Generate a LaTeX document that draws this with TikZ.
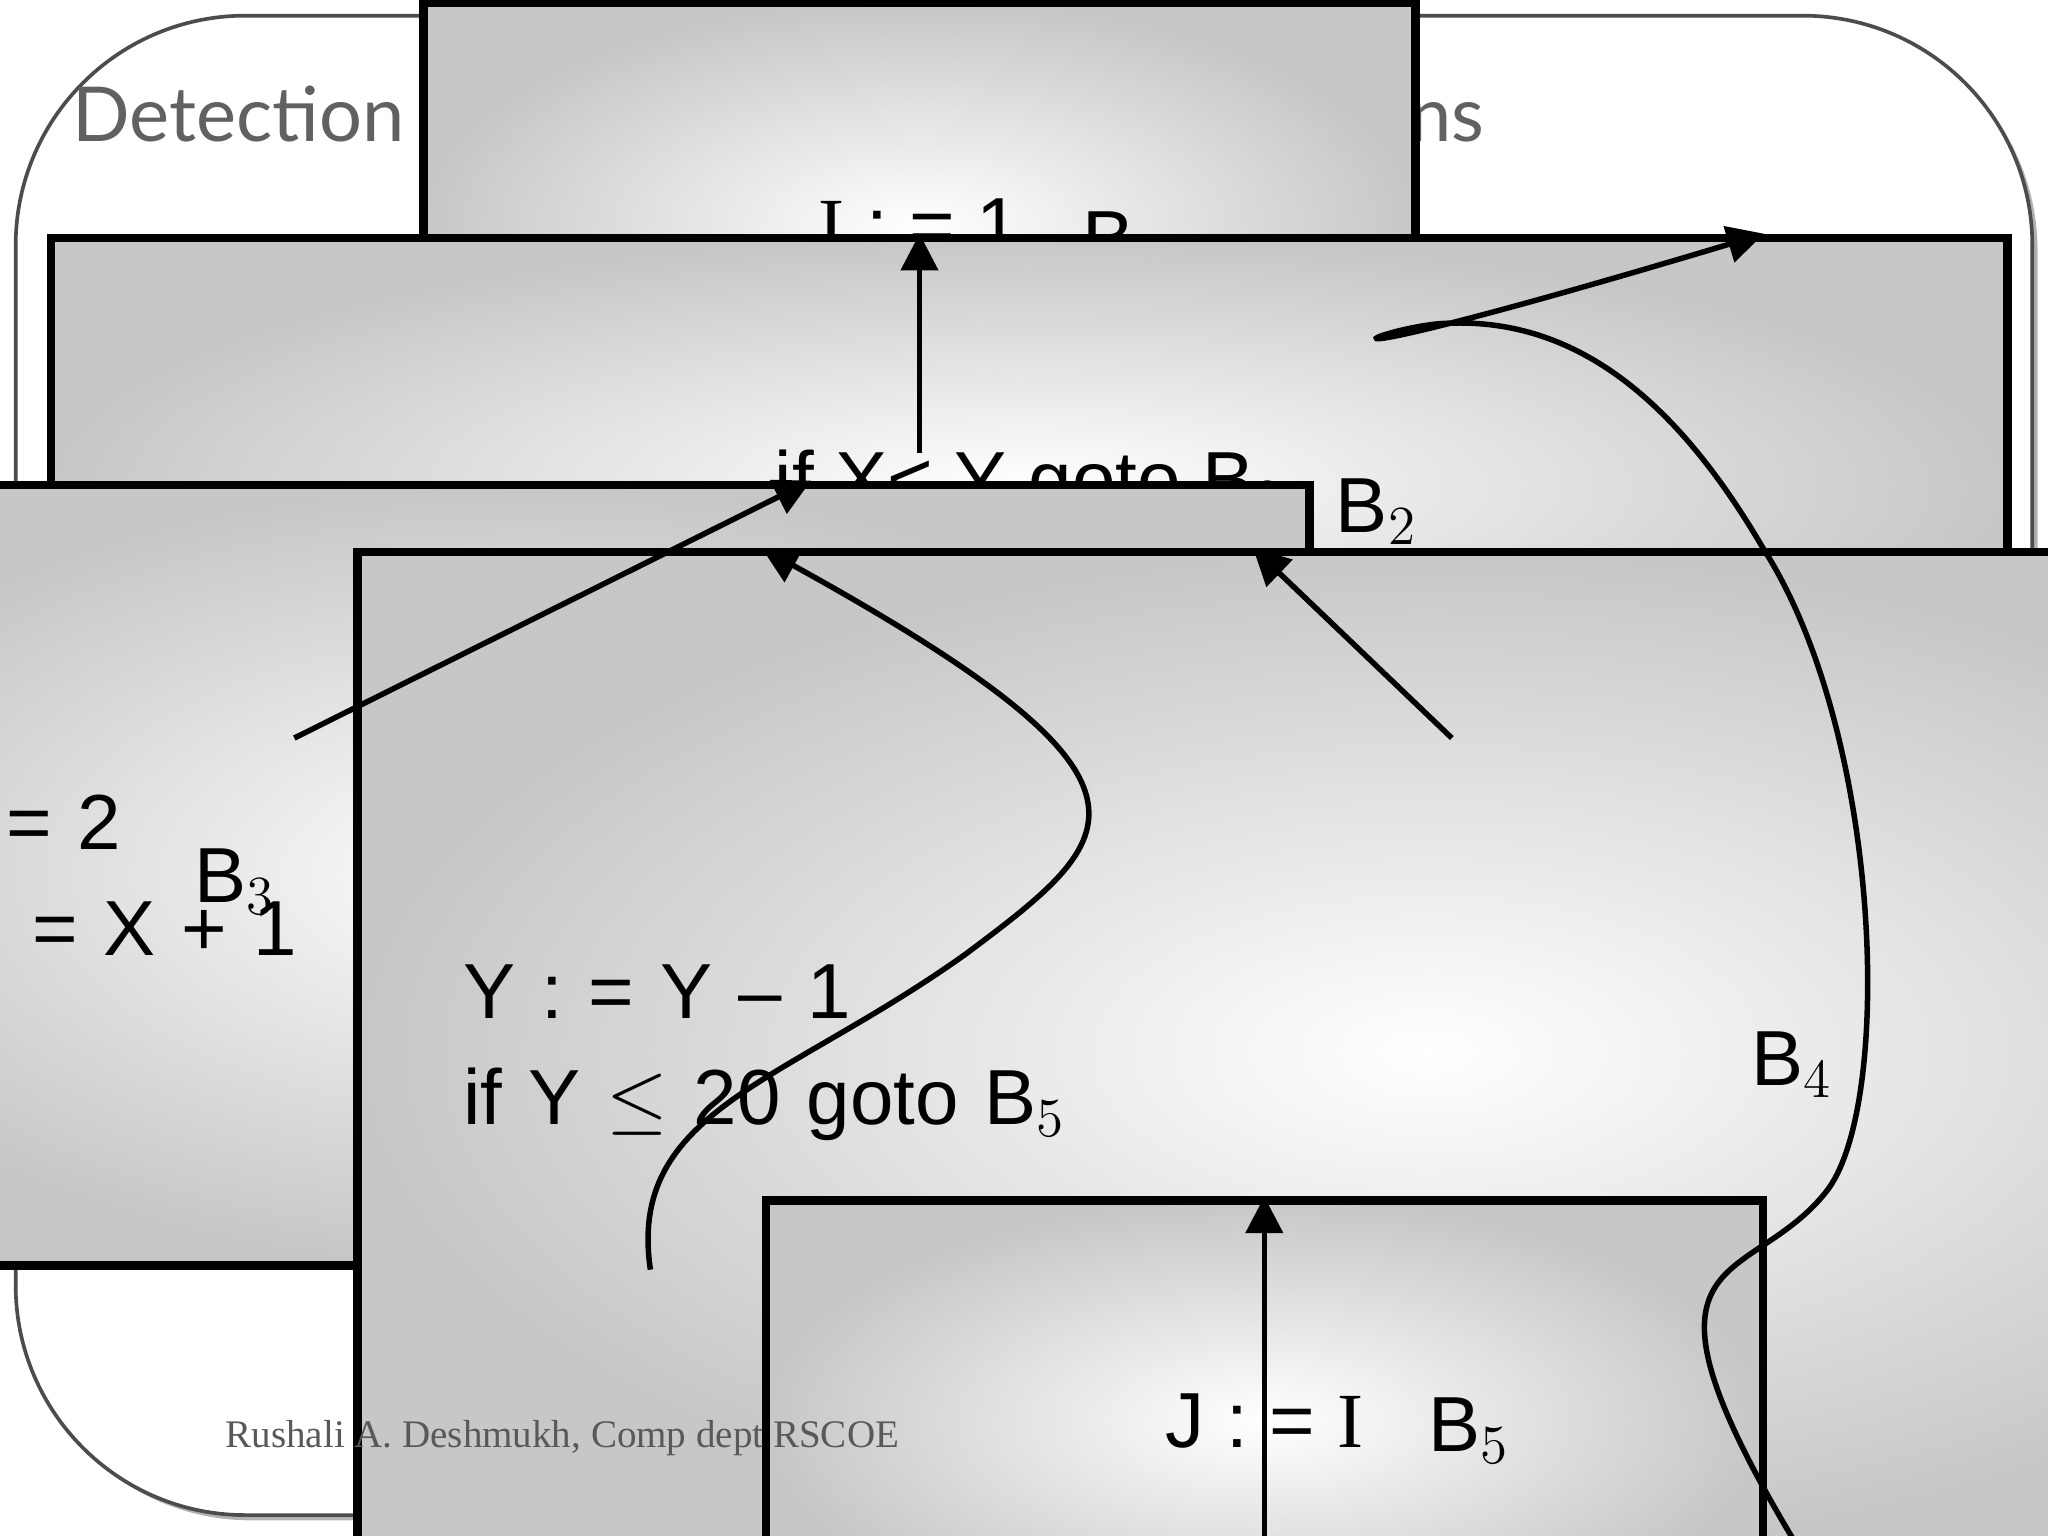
\documentclass[tikz,border=0pt]{standalone}
\usepackage{fontspec}
\setmainfont{Liberation Sans}
\newfontfamily\serifI{Liberation Serif}
\newfontfamily\titlefont{Lato}
\usetikzlibrary{arrows.meta,shadings}
\begin{document}
\begin{tikzpicture}[x=0.01cm,y=-0.01cm,
  blk/.style={draw=black,line width=1.8pt,inner color=white,outer color=black!22,font=\fontsize{17}{23}\selectfont,align=left},
  lbl/.style={font=\fontsize{17}{20}\selectfont},
  arr/.style={line width=1.2pt,-{Triangle[length=8pt,width=8pt]}}]
\useasboundingbox (0,0) rectangle (1568,1176);
\fill[black!30,rounded corners=50] (16,16) rectangle (1560,1164);
\draw[black!70,fill=white,line width=0.8pt,rounded corners=50] (12,12) rectangle (1556,1160);
\node[anchor=base west,inner sep=0,text=black!62,font=\titlefont\fontsize{16.5}{20}\selectfont] (title) at (55,108) {Detection of Loop-Invariant Computations};
\node[blk,minimum width=216,minimum height=97] (b1) at (704,173) {{\serifI I} : = 1};
\node[lbl] (l1) at (860,187) {B$_1$};
\node[blk,minimum width=426,minimum height=108] (b2) at (788,372) {if X< Y goto B$_3$};
\node[lbl] (l2) at (1054,392) {B$_2$};
\node[blk,minimum width=341,minimum height=170,text width=270] (b3) at (403,670) {{\serifI I} : = 2\\X : = X + 1};
\node[lbl] (l3) at (180,675) {B$_3$};
\node[blk,minimum width=466,minimum height=218,text width=420] (b4) at (1093,806) {Y : = Y -- 1\\if Y $\leq$ 20 goto B$_5$};
\node[lbl] (l4) at (1372,815) {B$_4$};
\node[blk,minimum width=217,minimum height=96] (b5) at (968,1088) {J : = {\serifI I}};
\node[lbl] (l5) at (1125,1095) {B$_5$};
\node[anchor=base west,inner sep=0,text=black!65,font=\serifI\fontsize{8.5}{10}\selectfont] (foot) at (172,1108) {Rushali A. Deshmukh, Comp dept RSCOE};
\draw[arr] (b1.south) -- (b2.north -| b1.south);
\draw[arr] ([xshift=-160]b2.south) -- ([xshift=62]b3.north);
\draw[arr] ([xshift=92]b2.south) -- ([xshift=-38]b4.north);
\draw[arr] (b4.south -| b5.north) -- (b5.north);
\draw[arr] ([xshift=27]b3.south) .. controls (480,850) and (600,830) .. (740,730)
  .. controls (860,640) and (910,600) .. ([xshift=-145]b4.north);
\draw[arr] ([xshift=82]b4.south) .. controls (1230,945) and (1340,990) .. (1400,910)
  .. controls (1450,840) and (1440,560) .. (1350,420)
  .. controls (1280,300) and (1200,240) .. (1100,248)
  .. controls (1040,255) and (980,290) .. ([xshift=160]b2.north);
\end{tikzpicture}
\end{document}
